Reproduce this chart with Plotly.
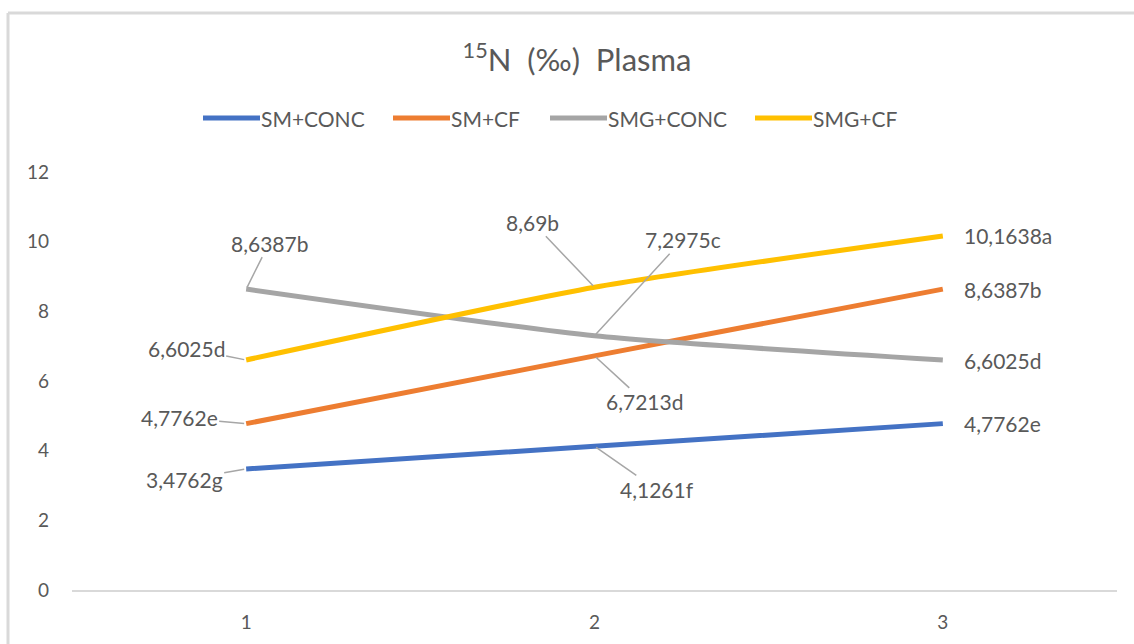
import plotly.graph_objects as go

categories = [1, 2, 3]
series_names = ["SM+CONC", "SM+CF", "SMG+CONC", "SMG+CF"]
sm_conc = [3.4762, 4.1261, 4.7762]
sm_cf = [4.7762, 6.7213, 8.6387]
smg_conc = [8.6387, 7.2975, 6.6025]
smg_cf = [6.6025, 8.69, 10.1638]
sm_conc_labels = ["3,4762g", "4,1261f", "4,7762e"]
sm_cf_labels = ["4,7762e", "6,7213d", "8,6387b"]
smg_conc_labels = ["8,6387b", "7,2975c", "6,6025d"]
smg_cf_labels = ["6,6025d", "8,69b", "10,1638a"]
y_ticks = [0, 2, 4, 6, 8, 10, 12]

colors = ["#4472C4", "#ED7D31", "#A5A5A5", "#FFC000"]
values = [sm_conc, sm_cf, smg_conc, smg_cf]
labels = [sm_conc_labels, sm_cf_labels, smg_conc_labels, smg_cf_labels]
# label offsets in pixels (ax, ay) for the first two categories; None -> plain label to the right
offsets = [
    [(-62, 11), (62, 43), None],
    [(-67, -6), (50, 46), None],
    [(23, -46), (88, -96), None],
    [(-60, -12), (-62, -65), None],
]

FONT = "Lato"
TXT = "#595959"
W, H = 1134, 644
ML, MR, MT, MB = 72, 17, 172, 54
PW, PH = W - ML - MR, H - MT - MB


def px_x(px):
    return (px - ML) / PW


def px_y(py):
    return (H - MB - py) / PH


fig = go.Figure()
for name, vals, col in zip(series_names, values, colors):
    fig.add_trace(go.Scatter(
        x=categories, y=vals, name=name, mode="lines", showlegend=False,
        line=dict(color=col, width=5, shape="spline", smoothing=0.6),
    ))

annotations = []
for vals, labs, offs in zip(values, labels, offsets):
    for xv, yv, lab, off in zip(categories, vals, labs, offs):
        if off is None:
            annotations.append(dict(
                x=xv, y=yv, text=lab, showarrow=False, xanchor="left",
                xshift=19, font=dict(family=FONT, size=21, color=TXT)))
        else:
            annotations.append(dict(
                x=xv, y=yv, text=lab, showarrow=True, ax=off[0], ay=off[1],
                arrowhead=0, arrowwidth=1.5, arrowcolor="#A6A6A6", standoff=2,
                font=dict(family=FONT, size=21, color=TXT)))

# custom legend (long line swatches like the original)
legend_starts = [203, 393, 550, 755]
legend_len = 57
legend_y = 118
shapes = []
for name, col, x0 in zip(series_names, colors, legend_starts):
    shapes.append(dict(type="line", xref="paper", yref="paper",
                       x0=px_x(x0), x1=px_x(x0 + legend_len),
                       y0=px_y(legend_y), y1=px_y(legend_y),
                       line=dict(color=col, width=5)))
    annotations.append(dict(xref="paper", yref="paper", x=px_x(x0 + legend_len - 1),
                            y=px_y(legend_y), text=name, showarrow=False,
                            xanchor="left", yanchor="middle",
                            font=dict(family=FONT, size=21, color=TXT)))

# outer chart border (top and left visible)
shapes += [
    dict(type="line", xref="paper", yref="paper", x0=px_x(8), x1=px_x(W + 20),
         y0=px_y(13), y1=px_y(13), line=dict(color="#D9D9D9", width=3)),
    dict(type="line", xref="paper", yref="paper", x0=px_x(8), x1=px_x(8),
         y0=px_y(H + 20), y1=px_y(13), line=dict(color="#D9D9D9", width=3)),
]

fig.update_layout(
    width=W, height=H,
    margin=dict(l=ML, r=MR, t=MT, b=MB, autoexpand=False),
    paper_bgcolor="white", plot_bgcolor="white",
    showlegend=False,
    title=dict(text="<sup>15</sup>N  (‰)  Plasma", x=577 / W, xref="container",
               y=1 - 60 / H, yref="container", xanchor="center", yanchor="middle",
               font=dict(family=FONT, size=31, color=TXT)),
    xaxis=dict(range=[0.5, 3.5], tickvals=categories, ticktext=[str(c) for c in categories],
               showgrid=False, zeroline=False, showline=True, linecolor="#D9D9D9",
               linewidth=2, ticks="", automargin=False, ticklabelstandoff=14,
               tickfont=dict(family=FONT, size=19, color=TXT)),
    yaxis=dict(range=[0, 12], tickvals=y_ticks, showgrid=False, zeroline=False,
               showline=False, ticks="", ticklabelstandoff=22, automargin=False,
               tickfont=dict(family=FONT, size=19, color=TXT)),
    annotations=annotations,
    shapes=shapes,
)

fig.write_html("out.html")
